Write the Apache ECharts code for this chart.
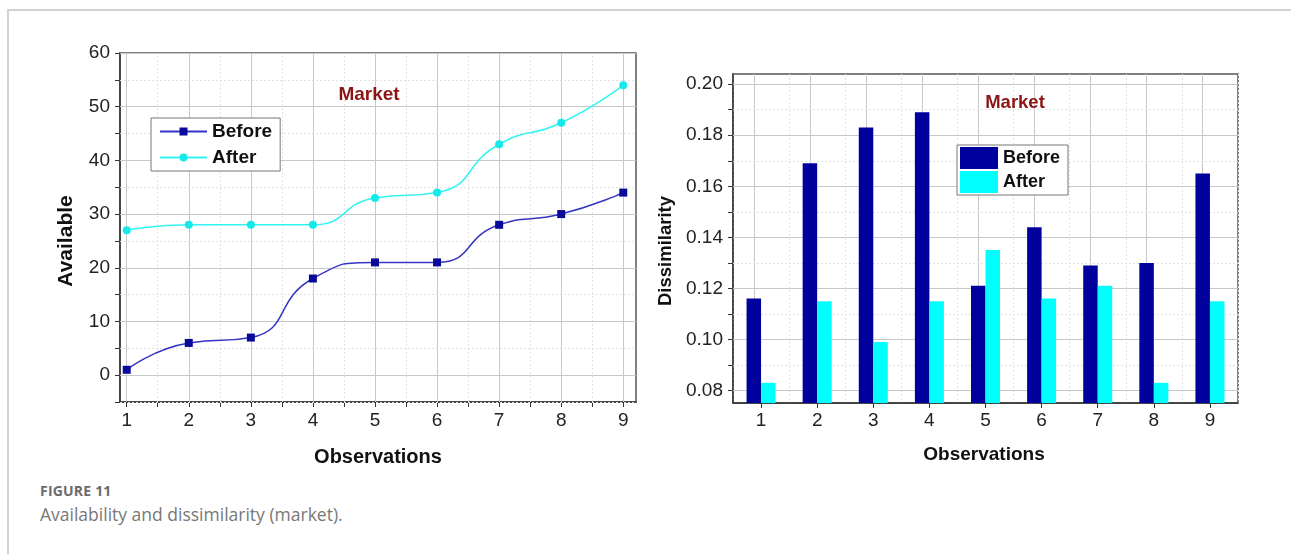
<!DOCTYPE html>
<html>
<head>
<meta charset="utf-8">
<script src="https://cdn.jsdelivr.net/npm/echarts@6/dist/echarts.min.js"></script>
<style>
  html, body { margin: 0; padding: 0; background: #fff; }
  body { width: 1291px; height: 554px; position: relative; overflow: hidden; }
  #chart { position: absolute; left: 0; top: 0; width: 1291px; height: 470px; }
  .frame-top { position: absolute; left: 7px; top: 9px; width: 1284px; height: 2px; background: #d3d3d3; }
  .frame-left { position: absolute; left: 7px; top: 9px; width: 2px; height: 545px; background: #d3d3d3; }
  .fig { position: absolute; left: 40px; top: 481px; font-family: "Open Sans", Lato, sans-serif; font-weight: 700; font-size: 14px; color: #6b6b6b; letter-spacing: 0.2px; }
  .cap { position: absolute; left: 40px; top: 502px; font-family: "Open Sans", Lato, sans-serif; font-size: 17.5px; color: #777; }
</style>
</head>
<body>
<div class="frame-top"></div>
<div class="frame-left"></div>
<div id="chart"></div>
<div class="fig">FIGURE 11</div>
<div class="cap">Availability and dissimilarity (market).</div>
<script>
// ---- data ----
var observations = [1, 2, 3, 4, 5, 6, 7, 8, 9];
var availBefore = [1, 6, 7, 18, 21, 21, 28, 30, 34];
var availAfter = [27, 28, 28, 28, 33, 34, 43, 47, 54];
var dissimBefore = [0.116, 0.169, 0.183, 0.189, 0.121, 0.144, 0.129, 0.130, 0.165];
var dissimAfter = [0.083, 0.115, 0.099, 0.115, 0.135, 0.116, 0.121, 0.083, 0.115];
var leftYTicks = [0, 10, 20, 30, 40, 50, 60];
var leftYMinor = [-5, 5, 15, 25, 35, 45, 55];
var leftXMinor = [1.5, 2.5, 3.5, 4.5, 5.5, 6.5, 7.5, 8.5];
var rightYTicks = [0.08, 0.10, 0.12, 0.14, 0.16, 0.18, 0.20];
var rightYMinor = [0.09, 0.11, 0.13, 0.15, 0.17, 0.19];
var seriesNames = ['Before', 'After'];
var panelTitle = 'Market';
var xTitle = 'Observations';
var leftYTitle = 'Available';
var rightYTitle = 'Dissimilarity';

// ---- chart ----
var chart = echarts.init(document.getElementById('chart'), null, { renderer: 'canvas' });
var FONT = '"Liberation Sans", Arial, sans-serif';
var majorGrid = { color: '#c8c8c8', width: 1, type: 'solid' };
var minorGrid = { color: '#e2e2e2', width: 1, type: [2, 2] };

function pairs(xs, ys) { return xs.map(function (x, i) { return [x, ys[i]]; }); }

var leftMark = [];
observations.forEach(function (v) { leftMark.push({ xAxis: v, lineStyle: majorGrid }); });
leftXMinor.forEach(function (v) { leftMark.push({ xAxis: v, lineStyle: minorGrid }); });
leftYTicks.forEach(function (v) { leftMark.push({ yAxis: v, lineStyle: majorGrid }); });
leftYMinor.forEach(function (v) { leftMark.push({ yAxis: v, lineStyle: minorGrid }); });

var rightMark = [];
observations.forEach(function (v) { rightMark.push({ xAxis: String(v), lineStyle: majorGrid }); });
rightYTicks.forEach(function (v) { rightMark.push({ yAxis: v, lineStyle: majorGrid }); });
rightYMinor.forEach(function (v) { rightMark.push({ yAxis: v, lineStyle: minorGrid }); });

var axisLineStyle = { color: '#333', width: 1.5 };
var tickFont = { fontFamily: FONT, fontSize: 19, color: '#222' };

var option = {
  animation: false,
  backgroundColor: 'transparent',
  grid: [
    { left: 120, top: 53, width: 516, height: 349, show: true, borderColor: '#555', borderWidth: 1.5, backgroundColor: 'transparent' },
    { left: 733, top: 74, width: 505, height: 329, show: true, borderColor: '#555', borderWidth: 1.5, backgroundColor: 'transparent' }
  ],
  xAxis: [
    {
      gridIndex: 0, type: 'value', min: 0.892, max: 9.205,
      axisLine: { onZero: false, lineStyle: axisLineStyle },
      axisTick: { show: true, length: 5, customValues: observations.concat(leftXMinor), lineStyle: { color: '#333' } },
      axisLabel: Object.assign({ customValues: observations, margin: 9 }, tickFont),
      splitLine: { show: false }
    },
    {
      gridIndex: 1, type: 'category', data: observations.map(String), boundaryGap: true,
      axisLine: { onZero: false, lineStyle: axisLineStyle },
      axisTick: { show: true, length: 5, alignWithLabel: true, lineStyle: { color: '#333' } },
      axisLabel: Object.assign({ margin: 8 }, tickFont),
      splitLine: { show: true, lineStyle: minorGrid }
    }
  ],
  yAxis: [
    {
      gridIndex: 0, type: 'value', min: -5, max: 60,
      axisLine: { show: true, onZero: false, lineStyle: axisLineStyle },
      axisTick: { show: true, length: 5, customValues: leftYTicks.concat(leftYMinor), lineStyle: { color: '#333' } },
      axisLabel: Object.assign({ customValues: leftYTicks, margin: 10 }, tickFont),
      splitLine: { show: false }
    },
    {
      gridIndex: 1, type: 'value', min: 0.0751, max: 0.204,
      axisLine: { show: true, onZero: false, lineStyle: axisLineStyle },
      axisTick: { show: true, length: 5, customValues: rightYTicks.concat(rightYMinor), lineStyle: { color: '#333' } },
      axisLabel: Object.assign({ customValues: rightYTicks, margin: 10,
        formatter: function (v) { return v.toFixed(2); } }, tickFont),
      splitLine: { show: false }
    }
  ],
  legend: [
    {
      data: seriesNames, orient: 'vertical', left: 151, top: 118,
      backgroundColor: '#fff', borderColor: '#777', borderWidth: 1, padding: [4, 8, 4, 8],
      itemWidth: 47, itemHeight: 10, itemGap: 7,
      textStyle: { fontFamily: FONT, fontSize: 19, fontWeight: 'bold', color: '#111' }
    },
    {
      data: seriesNames.map(function (n) { return n + ' '; }), orient: 'vertical', left: 957, top: 145,
      backgroundColor: '#fff', borderColor: '#777', borderWidth: 1, padding: [2, 8, 2, 3],
      itemWidth: 38, itemHeight: 22, itemGap: 2, icon: 'rect',
      formatter: function (n) { return n.trim(); },
      textStyle: { fontFamily: FONT, fontSize: 18, fontWeight: 'bold', color: '#111' }
    }
  ],
  graphic: [
    { type: 'text', x: 369, y: 95, style: { text: panelTitle, fill: '#8b1414', font: 'bold 19px ' + FONT, align: 'center', verticalAlign: 'middle' }, z: 10 },
    { type: 'text', x: 1015, y: 103, style: { text: panelTitle, fill: '#8b1414', font: 'bold 18.5px ' + FONT, align: 'center', verticalAlign: 'middle' }, z: 10 },
    { type: 'text', x: 378, y: 457, style: { text: xTitle, fill: '#111', font: 'bold 20px ' + FONT, align: 'center', verticalAlign: 'middle' } },
    { type: 'text', x: 984, y: 455, style: { text: xTitle, fill: '#111', font: 'bold 19px ' + FONT, align: 'center', verticalAlign: 'middle' } },
    { type: 'text', x: 66, y: 241, rotation: Math.PI / 2, style: { text: leftYTitle, fill: '#111', font: 'bold 21px ' + FONT, align: 'center', verticalAlign: 'middle' } },
    { type: 'text', x: 666, y: 251, rotation: Math.PI / 2, style: { text: rightYTitle, fill: '#111', font: 'bold 18.5px ' + FONT, align: 'center', verticalAlign: 'middle' } }
  ],
  series: [
    {
      name: 'Before', type: 'line', xAxisIndex: 0, yAxisIndex: 0, data: pairs(observations, availBefore),
      smooth: 0.55, symbol: 'rect', symbolSize: 8,
      lineStyle: { color: '#3434c4', width: 1.5 },
      itemStyle: { color: '#0a0a9a' }, z: 5,
      markLine: { silent: true, symbol: 'none', label: { show: false }, animation: false, data: leftMark, z: 1 }
    },
    {
      name: 'After', type: 'line', xAxisIndex: 0, yAxisIndex: 0, data: pairs(observations, availAfter),
      smooth: 0.55, symbol: 'circle', symbolSize: 8,
      lineStyle: { color: '#30f4f4', width: 1.5 },
      itemStyle: { color: '#14eaea' }, z: 5
    },
    {
      name: 'Before ', type: 'bar', xAxisIndex: 1, yAxisIndex: 1, data: dissimBefore,
      barWidth: 14.5, barGap: '0%', itemStyle: { color: '#00009c' }, z: 5,
      markLine: { silent: true, symbol: 'none', label: { show: false }, animation: false, data: rightMark, z: 1 }
    },
    {
      name: 'After ', type: 'bar', xAxisIndex: 1, yAxisIndex: 1, data: dissimAfter,
      barWidth: 14.5, barGap: '0%', itemStyle: { color: '#00ffff' }, z: 5
    }
  ]
};
chart.setOption(option);
</script>
</body>
</html>
